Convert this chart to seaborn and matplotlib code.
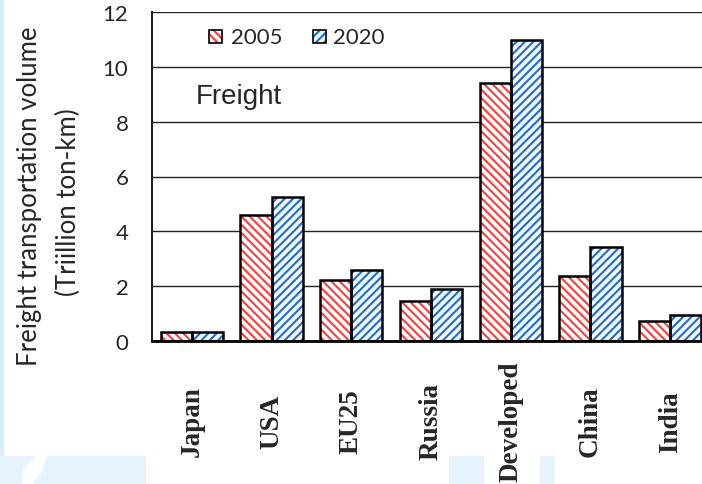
import matplotlib
matplotlib.use("Agg")
import matplotlib.pyplot as plt
from matplotlib.patches import Rectangle, Polygon
import seaborn as sns
import pandas as pd

# Freight transportation volume, trillion ton-km
regions = ["Japan", "USA", "EU25", "Russia", "Developed", "China", "India"]
years = ["2005", "2020"]
freight_2005 = [0.33, 4.6, 2.22, 1.47, 9.42, 2.37, 0.74]
freight_2020 = [0.33, 5.25, 2.58, 1.9, 10.98, 3.42, 0.95]
y_ticks = [0, 2, 4, 6, 8, 10, 12]

hatch_colors = {"2005": "#FF3C3C", "2020": "#1E6ED2"}
face_colors = {"2005": "#FFFFFF", "2020": "#F4F8FF"}
hatches = {"2005": "\\\\\\\\", "2020": "////"}

sns.set_style("white")
plt.rcParams["hatch.linewidth"] = 1.5
label_font = "Lato"

df = pd.DataFrame({
    "region": regions * 2,
    "year": [years[0]] * len(regions) + [years[1]] * len(regions),
    "volume": freight_2005 + freight_2020,
})

W, H = 702, 485
fig = plt.figure(figsize=(W / 100, H / 100), dpi=100)
fig.patch.set_facecolor("white")


def px_rect(x0, y0, w, h, **kw):
    """Rectangle given in pixel coordinates measured from the top-left corner."""
    return Rectangle((x0 / W, 1 - (y0 + h) / H), w / W, h / H,
                     transform=fig.transFigure, **kw)


# pale slide decoration along the left and bottom edges
deco = "#E6F3FF"
fig.add_artist(px_rect(0, 0, 4, 457, color="#D8ECFF", lw=0, zorder=0))
for x0, x1 in [(0, 146), (449, 484), (540, 555)]:
    fig.add_artist(px_rect(x0, 457, x1 - x0, 28, color=deco, lw=0, zorder=0))
blob = [(36, 457), (47, 457), (42, 473), (32, 485), (22, 485), (23, 470)]
fig.add_artist(Polygon([(x / W, 1 - y / H) for x, y in blob], closed=True,
                       transform=fig.transFigure, color="white", lw=0, zorder=0.5))

ax = fig.add_axes([152 / W, 143 / H, 558 / W, 329 / H])
ax.set_facecolor("none")

sns.barplot(data=df, x="region", y="volume", hue="year", hue_order=years,
            palette=face_colors, saturation=1, width=0.78, legend=False, ax=ax)

for year, container in zip(years, ax.containers):
    for bar in container:
        bar.set_facecolor(face_colors[year])
        bar.set_hatch(hatches[year])
        bar.set_edgecolor(hatch_colors[year])
        bar.set_linewidth(0)
        ax.add_patch(Rectangle(bar.get_xy(), bar.get_width(), bar.get_height(),
                               fill=False, ec="black", lw=1.8, zorder=3))

ax.set_xlim(-0.5, len(regions) - 0.5)
ax.set_ylim(0, 12)
ax.set_yticks(y_ticks)
ax.set_axisbelow(True)
ax.yaxis.grid(True, color="#222222", lw=1)
ax.xaxis.grid(False)

for side in ["top", "right"]:
    ax.spines[side].set_visible(False)
ax.spines["left"].set_color("#222222")
ax.spines["left"].set_linewidth(1.5)
ax.spines["bottom"].set_color("black")
ax.spines["bottom"].set_linewidth(2)

ax.set_xlabel("")
ax.set_ylabel("")
ax.tick_params(axis="y", direction="in", length=7, width=1, color="#666666",
               pad=17, labelsize=16)
for lab in ax.get_yticklabels():
    lab.set_fontfamily(label_font)

# category labels, with boundary ticks between groups
ax.set_xticks(range(len(regions)))
ax.set_xticks([i + 0.5 for i in range(len(regions) - 1)], minor=True)
ax.tick_params(axis="x", which="major", length=0, pad=57.5)
ax.tick_params(axis="x", which="minor", direction="in", length=7, width=1.2,
               color="#555555")
ax.set_xticklabels(regions, rotation=90, fontsize=19.5, fontweight="bold",
                   fontfamily="Liberation Serif", va="center", ha="center")

fig.text(30 / W, 1 - 196 / H, "Freight transportation volume", rotation=90,
         ha="center", va="center", fontsize=18.5, fontfamily=label_font)
fig.text(68 / W, 1 - 202 / H, "(Triillion ton-km)", rotation=90,
         ha="center", va="center", fontsize=18.5, fontfamily=label_font)

ax.text(196 / W, 1 - 104 / H, "Freight", transform=fig.transFigure,
        ha="left", va="baseline", fontsize=20, fontfamily="Liberation Sans")

# legend: hatched swatches with black outline, followed by the year
for year, sx, tx in [("2005", 209, 231), ("2020", 313, 333)]:
    fig.add_artist(px_rect(sx, 31, 13, 13, facecolor=face_colors[year],
                           hatch=hatches[year], edgecolor=hatch_colors[year],
                           lw=0, zorder=3))
    fig.add_artist(px_rect(sx, 31, 13, 13, fill=False, edgecolor="black",
                           lw=1.2, zorder=4))
    fig.text(tx / W, 1 - 38 / H, year, ha="left", va="center", fontsize=16,
             fontfamily=label_font)

fig.savefig("out.png", dpi=100)
